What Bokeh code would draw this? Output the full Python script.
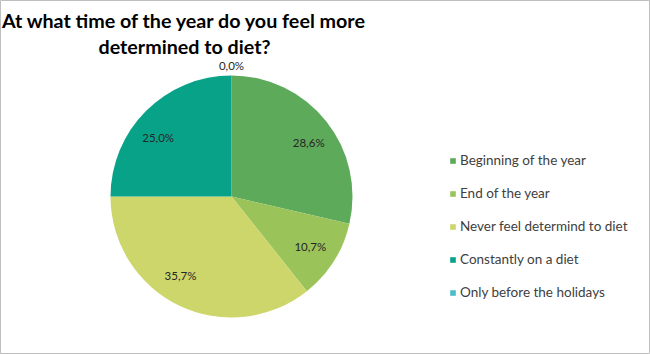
import math
from bokeh.plotting import figure
from bokeh.models import Range1d, ColumnDataSource, Legend, LegendItem
from bokeh.core.properties import value
from bokeh.embed import file_html
from bokeh.resources import INLINE

title_lines = ["At what time of the year do you feel more", "determined to diet?"]
categories = ["Beginning of the year", "End of the year", "Never feel determind to diet",
              "Constantly on a diet", "Only before the holidays"]
shares = [28.6, 10.7, 35.7, 25.0, 0.0]
labels = ["28,6%", "10,7%", "35,7%", "25,0%", "0,0%"]
colors = ["#5EAA5B", "#9AC35A", "#CDD66A", "#08A289", "#4DBEC6"]
# label placement style: distance (fraction of radius) and angular nudge (degrees, clockwise)
label_radius = [0.78, 0.77, 0.78, 0.78, 1.083]
label_nudge = [3.4, 0.0, 7.0, -6.0, 0.0]

W, H = 650, 354
cx, cy, R = 231, H - 196, 121

total = sum(shares)
starts, ends, lx, ly = [], [], [], []
cum = 0.0
for s, lr, nd in zip(shares, label_radius, label_nudge):
    a0 = math.pi / 2 - 2 * math.pi * cum / total
    cum += s
    a1 = math.pi / 2 - 2 * math.pi * cum / total
    starts.append(a0)
    ends.append(a1)
    mid = (a0 + a1) / 2 - math.radians(nd)
    lx.append(cx + lr * R * math.cos(mid))
    ly.append(cy + lr * R * math.sin(mid))

src = ColumnDataSource(dict(cat=categories, share=shares, start=starts, end=ends,
                            color=colors, lx=lx, ly=ly, label=labels))

p = figure(width=W, height=H, x_range=Range1d(0, W), y_range=Range1d(0, H),
           output_backend="svg", toolbar_location=None, min_border=0)
p.axis.visible = False
p.grid.visible = False
p.outline_line_color = "#BFBFBF"
p.outline_line_width = 1
p.background_fill_color = "white"
p.border_fill_color = "white"

renderers = []
for i in range(len(categories)):
    r = p.wedge(x=cx, y=cy, radius=R if shares[i] > 0 else 0,
                start_angle=starts[i], end_angle=ends[i],
                direction="clock", fill_color=colors[i], line_color=None)
    renderers.append(r)

p.text(x="lx", y="ly", text="label", source=src, text_align="center",
       text_baseline="middle", text_font=value("Lato"), text_font_size="11.5px",
       text_color="#262626")

p.text(x=[184, 184], y=[H - 20, H - 46], text=title_lines, text_align="center",
       text_baseline="middle", text_font=value("Lato"), text_font_style="bold",
       text_font_size="19.7px", text_color="#000000")

legend = Legend(items=[LegendItem(label=categories[i], renderers=[renderers[i]])
                       for i in range(len(categories))],
                location=(449, 52), orientation="vertical",
                glyph_width=7, glyph_height=7, label_standoff=4,
                label_height=20, spacing=13, padding=0, margin=0,
                border_line_color=None, background_fill_alpha=0,
                label_text_font="Lato", label_text_font_size="13.5px",
                label_text_color="#404040")
p.add_layout(legend)

open("out.html", "w").write(file_html(p, INLINE))
